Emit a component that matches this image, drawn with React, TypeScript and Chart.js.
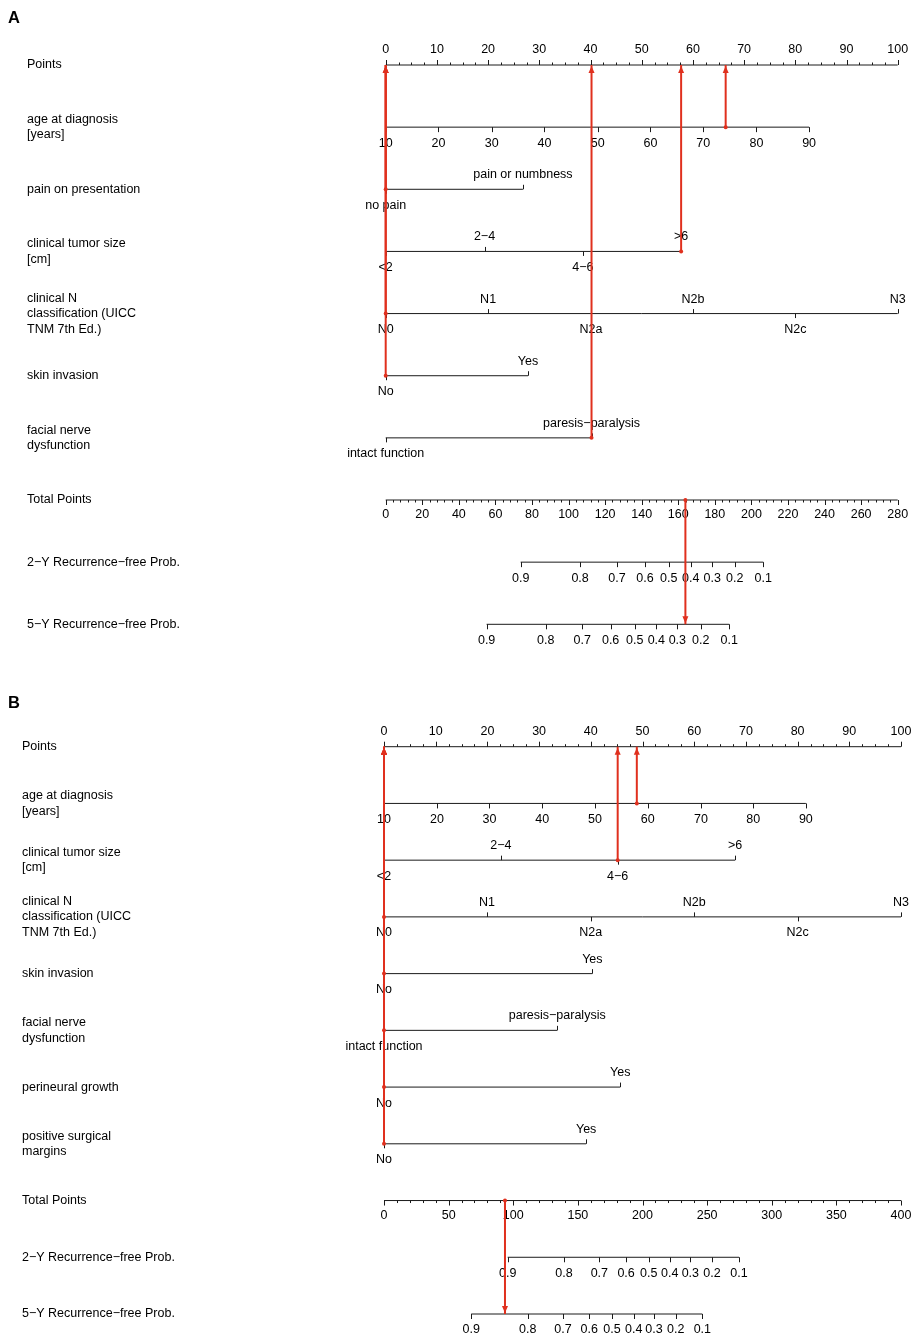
import React, { useEffect, useRef } from "react";
import { Chart, registerables } from "chart.js";

Chart.register(...registerables);

const FONT = '"Liberation Sans", Arial, Helvetica, sans-serif';
const RED = "#e0301e";
const INK = "#1a1a1a";

// ---------- shared tick labels ----------
const pointsTicks = [0, 10, 20, 30, 40, 50, 60, 70, 80, 90, 100];
const ageTickLabels = ["10", "20", "30", "40", "50", "60", "70", "80", "90"];
const probLabels = ["0.9", "0.8", "0.7", "0.6", "0.5", "0.4", "0.3", "0.2", "0.1"];
const painLabels = ["no pain", "pain or numbness"];
const tumorLabels = ["<2", "2\u22124", "4\u22126", ">6"];
const nLabels = ["N0", "N1", "N2a", "N2b", "N2c", "N3"];
const skinLabels = ["No", "Yes"];
const facialLabels = ["intact function", "paresis\u2212paralysis"];
const perineuralLabels = ["No", "Yes"];
const marginLabels = ["No", "Yes"];

// ---------- Panel A (points positions of each level) ----------
const ageTickPointsA = [0, 10.3, 20.7, 31.0, 41.4, 51.7, 62.0, 72.4, 82.7];
const painPointsA = [0, 26.8];
const tumorPointsA = [0, 19.3, 38.5, 57.7];
const nPointsA = [0, 20, 40.1, 60, 80, 100];
const skinPointsA = [0, 27.8];
const facialPointsA = [0, 40.2];
const totalTicksA = [0, 20, 40, 60, 80, 100, 120, 140, 160, 180, 200, 220, 240, 260, 280];
const prob2yTotalA = [73.8, 106.3, 126.5, 141.8, 154.8, 166.8, 178.6, 190.9, 206.5];
const prob5yTotalA = [55.2, 87.5, 107.5, 123.0, 136.2, 148.0, 159.5, 172.3, 187.9];
// example patient A: points per predictor row (age, pain, tumor, N, skin, facial)
const selectedPointsA = [66.4, 0, 57.7, 0, 0, 40.2];
const selectedTotalA = 163.9;

// ---------- Panel B ----------
const ageTickPointsB = [0, 10.25, 20.4, 30.6, 40.8, 51.0, 61.3, 71.4, 81.6];
const tumorPointsB = [0, 22.6, 45.2, 67.9];
const nPointsB = [0, 19.9, 40, 60, 80, 100];
const skinPointsB = [0, 40.3];
const facialPointsB = [0, 33.5];
const perineuralPointsB = [0, 45.7];
const marginPointsB = [0, 39.1];
const totalTicksB = [0, 50, 100, 150, 200, 250, 300, 350, 400];
const prob2yTotalB = [95.7, 139.3, 166.6, 187.3, 204.8, 221.1, 237.0, 253.8, 274.7];
const prob5yTotalB = [67.5, 111.2, 138.5, 158.8, 176.4, 193.2, 208.9, 225.7, 246.3];
// example patient B: (age, tumor, N, skin, facial, perineural, margins)
const selectedPointsB = [48.9, 45.2, 0, 0, 0, 0, 0];
const selectedTotalB = 93.6;

type Row = {
  kind: "points" | "cont" | "cat" | "total" | "prob";
  label: string[];
  ticks: number[];
  tickLabels: string[];
  scale: "x" | "xt";
};

type Panel = {
  letter: string;
  letterY: number;
  labelX: number;
  height: number;
  padding: { left: number; right: number; top: number; bottom: number };
  totalMax: number;
  totalMinorStep: number;
  rows: Row[];
  selected: number[];
  selectedTotal: number;
};

const panelA: Panel = {
  letter: "A",
  letterY: 18.5,
  labelX: 27,
  height: 670,
  padding: { left: 385.7, right: 915 - 897.7, top: 65, bottom: 670 - 624.3 },
  totalMax: 280,
  totalMinorStep: 4,
  rows: [
    { kind: "points", label: ["Points"], ticks: pointsTicks, tickLabels: pointsTicks.map(String), scale: "x" },
    { kind: "cont", label: ["age at diagnosis", "[years]"], ticks: ageTickPointsA, tickLabels: ageTickLabels, scale: "x" },
    { kind: "cat", label: ["pain on presentation"], ticks: painPointsA, tickLabels: painLabels, scale: "x" },
    { kind: "cat", label: ["clinical tumor size", "[cm]"], ticks: tumorPointsA, tickLabels: tumorLabels, scale: "x" },
    { kind: "cat", label: ["clinical N", "classification (UICC", "TNM 7th Ed.)"], ticks: nPointsA, tickLabels: nLabels, scale: "x" },
    { kind: "cat", label: ["skin invasion"], ticks: skinPointsA, tickLabels: skinLabels, scale: "x" },
    { kind: "cat", label: ["facial nerve", "dysfunction"], ticks: facialPointsA, tickLabels: facialLabels, scale: "x" },
    { kind: "total", label: ["Total Points"], ticks: totalTicksA, tickLabels: totalTicksA.map(String), scale: "xt" },
    { kind: "prob", label: ["2\u2212Y Recurrence\u2212free Prob."], ticks: prob2yTotalA, tickLabels: probLabels, scale: "xt" },
    { kind: "prob", label: ["5\u2212Y Recurrence\u2212free Prob."], ticks: prob5yTotalA, tickLabels: probLabels, scale: "xt" },
  ],
  selected: selectedPointsA,
  selectedTotal: selectedTotalA,
};

const panelB: Panel = {
  letter: "B",
  letterY: 703.5 - 670,
  labelX: 22,
  height: 669,
  padding: { left: 384, right: 915 - 901, top: 746.7 - 670, bottom: 1339 - 1314 },
  totalMax: 400,
  totalMinorStep: 10,
  rows: [
    { kind: "points", label: ["Points"], ticks: pointsTicks, tickLabels: pointsTicks.map(String), scale: "x" },
    { kind: "cont", label: ["age at diagnosis", "[years]"], ticks: ageTickPointsB, tickLabels: ageTickLabels, scale: "x" },
    { kind: "cat", label: ["clinical tumor size", "[cm]"], ticks: tumorPointsB, tickLabels: tumorLabels, scale: "x" },
    { kind: "cat", label: ["clinical N", "classification (UICC", "TNM 7th Ed.)"], ticks: nPointsB, tickLabels: nLabels, scale: "x" },
    { kind: "cat", label: ["skin invasion"], ticks: skinPointsB, tickLabels: skinLabels, scale: "x" },
    { kind: "cat", label: ["facial nerve", "dysfunction"], ticks: facialPointsB, tickLabels: facialLabels, scale: "x" },
    { kind: "cat", label: ["perineural growth"], ticks: perineuralPointsB, tickLabels: perineuralLabels, scale: "x" },
    { kind: "cat", label: ["positive surgical", "margins"], ticks: marginPointsB, tickLabels: marginLabels, scale: "x" },
    { kind: "total", label: ["Total Points"], ticks: totalTicksB, tickLabels: totalTicksB.map(String), scale: "xt" },
    { kind: "prob", label: ["2\u2212Y Recurrence\u2212free Prob."], ticks: prob2yTotalB, tickLabels: probLabels, scale: "xt" },
    { kind: "prob", label: ["5\u2212Y Recurrence\u2212free Prob."], ticks: prob5yTotalB, tickLabels: probLabels, scale: "xt" },
  ],
  selected: selectedPointsB,
  selectedTotal: selectedTotalB,
};

function buildChart(canvas: HTMLCanvasElement, panel: Panel) {
  const rows = panel.rows;
  const lastRow = rows.length - 1;
  const totalRow = rows.findIndex((r) => r.kind === "total");

  const datasets: any[] = [];
  // black axis lines
  rows.forEach((r, i) => {
    datasets.push({
      type: "line",
      data: [
        { x: r.ticks[0], y: i },
        { x: r.ticks[r.ticks.length - 1], y: i },
      ],
      xAxisID: r.scale,
      yAxisID: "y",
      borderColor: INK,
      borderWidth: 1,
      pointRadius: 0,
      clip: false,
      order: 2,
    });
  });
  // red reading lines for predictors
  panel.selected.forEach((pts, j) => {
    datasets.push({
      type: "line",
      data: [
        { x: pts, y: j + 1 },
        { x: pts, y: 0 },
      ],
      xAxisID: "x",
      yAxisID: "y",
      borderColor: RED,
      borderWidth: 2,
      pointRadius: [2, 0],
      pointBackgroundColor: RED,
      pointBorderWidth: 0,
      clip: false,
      order: 1,
    });
  });
  // red total line
  datasets.push({
    type: "line",
    data: [
      { x: panel.selectedTotal, y: totalRow },
      { x: panel.selectedTotal, y: lastRow },
    ],
    xAxisID: "xt",
    yAxisID: "y",
    borderColor: RED,
    borderWidth: 2,
    pointRadius: [2, 0],
    pointBackgroundColor: RED,
    pointBorderWidth: 0,
    clip: false,
    order: 1,
  });

  const axesPlugin = {
    id: "nomoAxes",
    beforeDatasetsDraw(chart: any) {
      const ctx = chart.ctx as CanvasRenderingContext2D;
      const xs = chart.scales.x;
      const xt = chart.scales.xt;
      const ys = chart.scales.y;
      ctx.save();
      ctx.strokeStyle = INK;
      ctx.fillStyle = "#000";
      ctx.lineWidth = 1;
      ctx.font = `12.5px ${FONT}`;
      ctx.textBaseline = "middle";

      const tick = (px: number, y: number, len: number) => {
        const xx = Math.round(px) + 0.5;
        ctx.beginPath();
        ctx.moveTo(xx, y);
        ctx.lineTo(xx, y + len);
        ctx.stroke();
      };

      // panel letter
      ctx.textAlign = "left";
      ctx.font = `bold 16.5px ${FONT}`;
      ctx.fillText(panel.letter, 8, panel.letterY);
      ctx.font = `12.5px ${FONT}`;

      rows.forEach((r, i) => {
        const y = ys.getPixelForValue(i);
        const sc = r.scale === "xt" ? xt : xs;

        // row label
        ctx.textAlign = "left";
        const lh = 15.5;
        const y0 = y - ((r.label.length - 1) * lh) / 2;
        r.label.forEach((t, k) => ctx.fillText(t, panel.labelX, y0 + k * lh));

        ctx.textAlign = "center";
        if (r.kind === "points") {
          const first = r.ticks[0];
          const last = r.ticks[r.ticks.length - 1];
          for (let v = first; v <= last + 1e-6; v += 2.5) {
            if (r.ticks.some((t) => Math.abs(t - v) < 1e-6)) continue;
            tick(sc.getPixelForValue(v), y, -2.5);
          }
          r.ticks.forEach((t, k) => {
            const px = sc.getPixelForValue(t);
            tick(px, y, -5);
            ctx.fillText(r.tickLabels[k], px, y - 15);
          });
        } else if (r.kind === "total") {
          const first = r.ticks[0];
          const last = r.ticks[r.ticks.length - 1];
          for (let v = first; v <= last + 1e-6; v += panel.totalMinorStep) {
            if (r.ticks.some((t) => Math.abs(t - v) < 1e-6)) continue;
            tick(sc.getPixelForValue(v), y, 2.5);
          }
          r.ticks.forEach((t, k) => {
            const px = sc.getPixelForValue(t);
            tick(px, y, 5);
            ctx.fillText(r.tickLabels[k], px, y + 15);
          });
        } else if (r.kind === "cont" || r.kind === "prob") {
          r.ticks.forEach((t, k) => {
            const px = sc.getPixelForValue(t);
            tick(px, y, 5);
            ctx.fillText(r.tickLabels[k], px, y + 16);
          });
        } else {
          r.ticks.forEach((t, k) => {
            const px = sc.getPixelForValue(t);
            if (k % 2 === 0) {
              tick(px, y, 4.5);
              ctx.fillText(r.tickLabels[k], px, y + 16);
            } else {
              tick(px, y, -4.5);
              ctx.fillText(r.tickLabels[k], px, y - 14.5);
            }
          });
        }
      });
      ctx.restore();
    },
    afterDatasetsDraw(chart: any) {
      const ctx = chart.ctx as CanvasRenderingContext2D;
      const xs = chart.scales.x;
      const xt = chart.scales.xt;
      const ys = chart.scales.y;
      ctx.save();
      ctx.fillStyle = RED;
      const head = (px: number, tipY: number, dir: number) => {
        ctx.beginPath();
        ctx.moveTo(px, tipY);
        ctx.lineTo(px - 3, tipY + dir * 7);
        ctx.lineTo(px + 3, tipY + dir * 7);
        ctx.closePath();
        ctx.fill();
      };
      const yTop = ys.getPixelForValue(0);
      panel.selected.forEach((pts) => head(xs.getPixelForValue(pts), yTop + 1, 1));
      head(xt.getPixelForValue(panel.selectedTotal), ys.getPixelForValue(lastRow) - 1, -1);
      ctx.restore();
    },
  };

  return new Chart(canvas, {
    type: "line",
    data: { datasets },
    options: {
      responsive: false,
      devicePixelRatio: 1,
      animation: false,
      events: [],
      layout: { padding: panel.padding },
      plugins: { legend: { display: false }, tooltip: { enabled: false } },
      scales: {
        x: { type: "linear", axis: "x", position: "bottom", min: 0, max: 100, display: false },
        xt: { type: "linear", axis: "x", position: "bottom", min: 0, max: panel.totalMax, display: false },
        y: { type: "linear", axis: "y", min: 0, max: lastRow, reverse: true, display: false },
      },
    },
    plugins: [axesPlugin],
  } as any);
}

function NomogramPanel({ panel, top }: { panel: Panel; top: number }) {
  const ref = useRef<HTMLCanvasElement>(null);
  useEffect(() => {
    const chart = buildChart(ref.current!, panel);
    return () => chart.destroy();
  }, [panel]);
  return (
    <canvas
      ref={ref}
      width={915}
      height={panel.height}
      style={{ position: "absolute", left: 0, top, width: 915, height: panel.height, display: "block" }}
    />
  );
}

export default function App() {
  return (
    <div style={{ position: "fixed", left: 0, top: 0, width: 915, height: 1339, background: "#fff", overflow: "hidden" }}>
      <NomogramPanel panel={panelA} top={0} />
      <NomogramPanel panel={panelB} top={670} />
    </div>
  );
}
